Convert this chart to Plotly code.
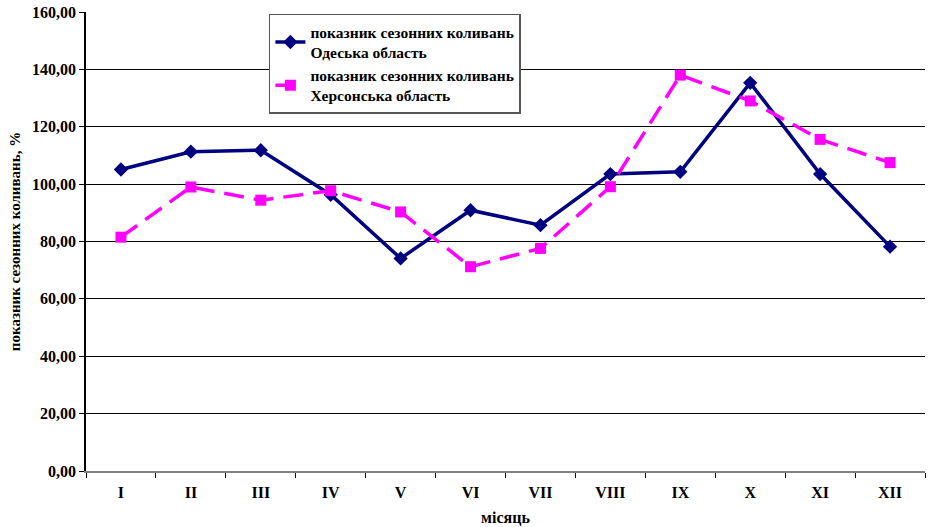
import plotly.graph_objects as go

months = ["I", "II", "III", "IV", "V", "VI", "VII", "VIII", "IX", "X", "XI", "XII"]
odesa = [105.1, 111.3, 111.8, 96.3, 74.1, 90.9, 85.7, 103.5, 104.3, 135.3, 103.5, 78.2]
kherson = [81.5, 99.0, 94.4, 97.7, 90.3, 71.2, 77.6, 99.1, 138.0, 129.0, 115.6, 107.5]

name_odesa = "показник сезонних коливань<br>Одеська область"
name_kherson = "показник сезонних коливань<br>Херсонська область"

serif = "Liberation Serif, Times New Roman, serif"

fig = go.Figure()
fig.add_trace(go.Scatter(
    x=months, y=odesa, name=name_odesa, mode="lines+markers",
    line=dict(color="#000080", width=3.5),
    marker=dict(symbol="diamond", size=11, color="#000080"),
))
fig.add_trace(go.Scatter(
    x=months, y=kherson, name=name_kherson, mode="lines+markers",
    line=dict(color="#FF00FF", width=3.5, dash="20px,10px"),
    marker=dict(symbol="square", size=11, color="#FF00FF"),
))

fig.update_layout(
    width=928, height=527,
    margin=dict(l=86, r=3, t=12, b=56),
    paper_bgcolor="white", plot_bgcolor="white",
    separators=", ",
    font=dict(family=serif, size=16, color="black", weight="bold"),
    showlegend=True,
    legend=dict(
        x=0.218, y=0.996, xanchor="left", yanchor="top",
        bgcolor="white", bordercolor="#555555", borderwidth=1.5,
        font=dict(family=serif, size=15.5, color="black", weight="bold"),
        tracegroupgap=0,
    ),
    xaxis=dict(
        type="category", tickson="boundaries", range=[-0.5, 11.5],
        ticks="outside", ticklen=5, tickcolor="black",
        ticklabelstandoff=6,
        showline=True, linecolor="#808080", linewidth=2,
        showgrid=False,
        tickfont=dict(family=serif, size=16, weight="bold"),
        title=dict(text="місяць", standoff=12,
                   font=dict(family=serif, size=16, weight="bold")),
    ),
    yaxis=dict(
        range=[0, 160], dtick=20, tickformat=".2f",
        ticks="outside", ticklen=5, tickcolor="black",
        showline=True, linecolor="black", linewidth=1.5,
        showgrid=True, gridcolor="black", gridwidth=1,
        zeroline=False,
        tickfont=dict(family=serif, size=16, weight="bold"),
        title=dict(text="показник сезонних коливань, %", standoff=8,
                   font=dict(family=serif, size=15, weight="bold")),
    ),
)

fig.write_html("out.html")
